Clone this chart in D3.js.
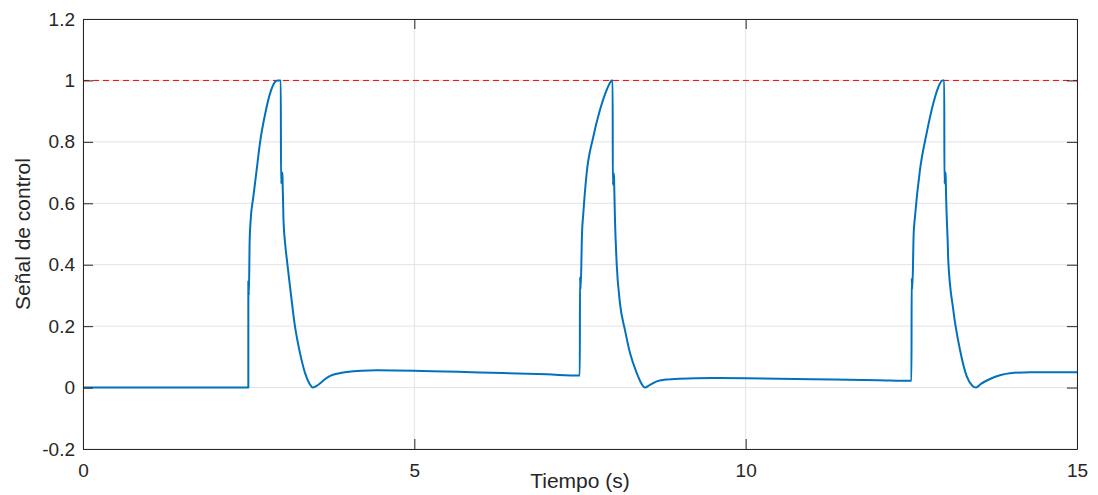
<!DOCTYPE html>
<html>
<head>
<meta charset="utf-8">
<script src="https://cdn.jsdelivr.net/npm/d3@7"></script>
<style>
  body { margin: 0; background: #fff; }
  svg { font-family: "Liberation Sans", Arial, sans-serif; }
</style>
</head>
<body>
<div class="chart"></div>
<script>
// samples (time in s, control signal)
const tiempo = [
  0, 2.495, 2.495, 2.503, 2.515, 2.53, 2.57, 2.62, 2.673, 2.748, 2.822, 2.897, 2.94, 2.985,
  2.988, 3.01, 3.013, 3.025, 3.05, 3.08, 3.124, 3.199, 3.274, 3.35, 3.42, 3.465, 3.52, 3.58,
  3.65, 3.73, 3.85, 3.98, 4.2, 4.43, 5.0, 6.0, 7.0, 7.497,
  7.5, 7.51, 7.53, 7.55, 7.6, 7.7, 7.8, 7.9, 7.96, 7.978, 7.993,
  7.995, 8.013, 8.016, 8.028, 8.038, 8.053, 8.103, 8.178, 8.254, 8.355, 8.43, 8.48, 8.55,
  8.657, 8.8, 9.0, 9.5, 10, 11, 12, 12.502,
  12.505, 12.515, 12.535, 12.555, 12.63, 12.73, 12.83, 12.93, 12.965, 12.997,
  12.999, 13.018, 13.021, 13.035, 13.048, 13.057, 13.133, 13.234, 13.335, 13.42, 13.475,
  13.55, 13.686, 13.85, 13.988, 14.3, 15
];
const senal = [
  0, 0, 0.345, 0.30, 0.48, 0.545, 0.62, 0.708, 0.80, 0.89, 0.957, 0.995, 1.0, 1.0,
  0.665, 0.70, 0.66, 0.55, 0.47, 0.41, 0.329, 0.199, 0.113, 0.048, 0.012, 0.0, 0.005, 0.014,
  0.027, 0.038, 0.046, 0.051, 0.055, 0.056, 0.055, 0.049, 0.043, 0.039,
  0.36, 0.32, 0.50, 0.567, 0.697, 0.816, 0.903, 0.968, 0.995, 1.0, 1.0,
  0.66, 0.697, 0.66, 0.545, 0.48, 0.405, 0.275, 0.188, 0.113, 0.048, 0.012, 0.0, 0.008,
  0.02, 0.026, 0.029, 0.031, 0.030, 0.027, 0.024, 0.022,
  0.356, 0.32, 0.50, 0.556, 0.708, 0.827, 0.924, 0.989, 1.0, 1.0,
  0.665, 0.70, 0.66, 0.55, 0.48, 0.415, 0.253, 0.123, 0.037, 0.006, 0.0,
  0.012, 0.028, 0.041, 0.047, 0.05, 0.05
];
const referencia = 1;
const xTicks = [0, 5, 10, 15];
const yTicks = [-0.2, 0, 0.2, 0.4, 0.6, 0.8, 1, 1.2];

const containerWidth = 1098;
const containerHeight = 495;
const margin = { top: 19, right: 21, bottom: 46, left: 83 };
const graphWidth = containerWidth - margin.left - margin.right;
const graphHeight = containerHeight - margin.top - margin.bottom;
const axisColor = '#262626';

const svg = d3
  .select('.chart')
  .append('svg')
  .attr('width', containerWidth)
  .attr('height', containerHeight);

const graph = svg
  .append('g')
  .attr('transform', `translate(${margin.left}, ${margin.top})`);

const x = d3.scaleLinear().domain([0, 15]).range([0, graphWidth]);
const y = d3.scaleLinear().domain([-0.2, 1.2]).range([graphHeight, 0]);

// grid
graph
  .append('g')
  .selectAll('line')
  .data(xTicks)
  .enter()
  .append('line')
  .attr('x1', (d) => x(d))
  .attr('x2', (d) => x(d))
  .attr('y1', 0)
  .attr('y2', graphHeight)
  .attr('stroke', '#e3e3e3')
  .attr('stroke-width', 1);

graph
  .append('g')
  .selectAll('line')
  .data(yTicks)
  .enter()
  .append('line')
  .attr('x1', 0)
  .attr('x2', graphWidth)
  .attr('y1', (d) => y(d))
  .attr('y2', (d) => y(d))
  .attr('stroke', '#e3e3e3')
  .attr('stroke-width', 1);

// reference
graph
  .append('line')
  .attr('x1', x(0))
  .attr('x2', x(15))
  .attr('y1', y(referencia))
  .attr('y2', y(referencia))
  .attr('stroke', '#ff0000')
  .attr('stroke-width', 1)
  .attr('stroke-dasharray', '6,4');

// signal
const puntos = tiempo.map((t, i) => [t, senal[i]]);
const line = d3
  .line()
  .curve(d3.curveMonotoneX)
  .x((d) => x(d[0]))
  .y((d) => y(d[1]));

graph
  .append('path')
  .datum(puntos)
  .attr('d', line)
  .attr('fill', 'none')
  .attr('stroke', '#0072BD')
  .attr('stroke-width', 2)
  .attr('stroke-linejoin', 'round');

// axes
const fmt = (d) => String(+d.toFixed(1));
const styleAxis = (g) => {
  g.select('.domain').attr('stroke', axisColor);
  g.selectAll('.tick line').attr('stroke', axisColor);
  g.selectAll('.tick text')
    .attr('fill', axisColor)
    .style('font-size', '19px')
    .style('font-family', '"Liberation Sans", Arial, sans-serif');
};

graph
  .append('g')
  .attr('transform', `translate(0, ${graphHeight})`)
  .call(d3.axisBottom(x).tickValues(xTicks).tickFormat(fmt).tickSize(-10).tickSizeOuter(0).tickPadding(15))
  .call(styleAxis);

graph
  .append('g')
  .call(d3.axisLeft(y).tickValues(yTicks).tickFormat(fmt).tickSize(-10).tickSizeOuter(0).tickPadding(8))
  .call(styleAxis);

graph
  .append('g')
  .call(d3.axisTop(x).tickValues(xTicks).tickFormat('').tickSize(-10).tickSizeOuter(0))
  .call(styleAxis);

graph
  .append('g')
  .attr('transform', `translate(${graphWidth}, 0)`)
  .call(d3.axisRight(y).tickValues(yTicks).tickFormat('').tickSize(-10).tickSizeOuter(0))
  .call(styleAxis);

// labels
svg
  .append('text')
  .attr('x', margin.left + graphWidth / 2)
  .attr('y', 488)
  .attr('text-anchor', 'middle')
  .attr('fill', axisColor)
  .style('font-size', '21px')
  .text('Tiempo (s)');

svg
  .append('text')
  .attr('transform', `translate(30, ${margin.top + graphHeight / 2}) rotate(-90)`)
  .attr('text-anchor', 'middle')
  .attr('fill', axisColor)
  .style('font-size', '21px')
  .text('Señal de control');
</script>
</body>
</html>
